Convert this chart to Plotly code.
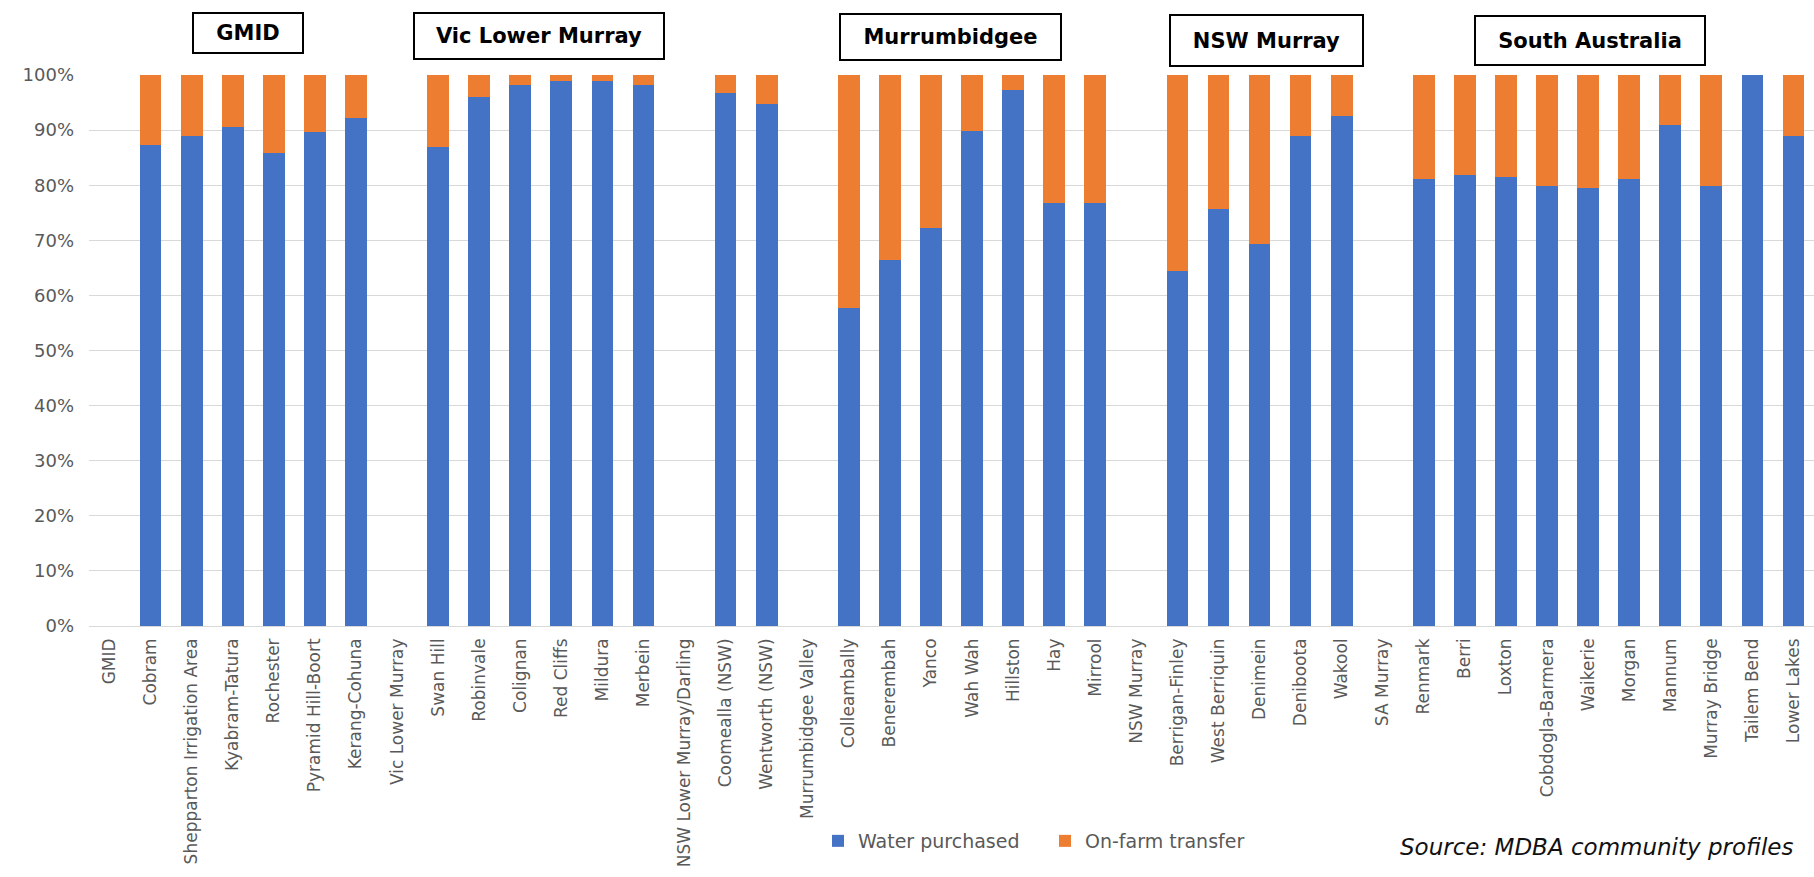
import plotly.graph_objects as go

categories = [
    "GMID", "Cobram", "Shepparton Irrigation Area", "Kyabram-Tatura", "Rochester",
    "Pyramid Hill-Boort", "Kerang-Cohuna", "Vic Lower Murray", "Swan Hill", "Robinvale",
    "Colignan", "Red Cliffs", "Mildura", "Merbein", "NSW Lower Murray/Darling",
    "Coomealla (NSW)", "Wentworth (NSW)", "Murrumbidgee Valley", "Colleambally", "Benerembah",
    "Yanco", "Wah Wah", "Hillston", "Hay", "Mirrool", "NSW Murray", "Berrigan-Finley",
    "West Berriquin", "Denimein", "Deniboota", "Wakool", "SA Murray", "Renmark", "Berri",
    "Loxton", "Cobdogla-Barmera", "Waikerie", "Morgan", "Mannum", "Murray Bridge",
    "Tailem Bend", "Lower Lakes",
]

water_purchased = [
    None, 87.3, 89.0, 90.6, 85.8, 89.7, 92.2, None, 86.9, 96.0,
    98.1, 98.9, 98.9, 98.1, None, 96.8, 94.7, None, 57.7, 66.4,
    72.2, 89.8, 97.2, 76.8, 76.8, None, 64.4, 75.6, 69.4, 88.9,
    92.6, None, 81.1, 81.9, 81.5, 79.8, 79.5, 81.1, 91.0, 79.8,
    100.0, 88.9,
]

on_farm_transfer = [
    None, 12.7, 11.0, 9.4, 14.2, 10.3, 7.8, None, 13.1, 4.0,
    1.9, 1.1, 1.1, 1.9, None, 3.2, 5.3, None, 42.3, 33.6,
    27.8, 10.2, 2.8, 23.2, 23.2, None, 35.6, 24.4, 30.6, 11.1,
    7.4, None, 18.9, 18.1, 18.5, 20.2, 20.5, 18.9, 9.0, 20.2,
    0.0, 11.1,
]

y_ticks = [0, 10, 20, 30, 40, 50, 60, 70, 80, 90, 100]
y_tick_labels = ["0%", "10%", "20%", "30%", "40%", "50%", "60%", "70%", "80%", "90%", "100%"]

group_titles = ["GMID", "Vic Lower Murray", "Murrumbidgee", "NSW Murray", "South Australia"]

# ---- layout geometry (pixels) ----
W, H = 1814, 877
L, R, T, B = 89, 0, 75, 251
PW, PH = W - L - R, H - T - B


def px_x(px):
    return (px - L) / PW


def px_y(py):
    return (H - B - py) / PH


BLUE = "#4472C4"
ORANGE = "#ED7D31"
GREY = "#595959"
FONT = "DejaVu Sans"

fig = go.Figure()
fig.add_trace(go.Bar(x=categories, y=water_purchased, name="Water purchased",
                     marker=dict(color=BLUE, line=dict(width=0))))
fig.add_trace(go.Bar(x=categories, y=on_farm_transfer, name="On-farm transfer",
                     marker=dict(color=ORANGE, line=dict(width=0))))

# header boxes: (center x, center y, width, height) in pixels
boxes = [(248, 33, 112, 42), (539, 36, 252, 48), (950, 37, 223, 48),
         (1266, 40, 195, 53), (1590, 40, 232, 51)]
for title, (cx, cy, bw, bh) in zip(group_titles, boxes):
    fig.add_annotation(
        text="<b>%s</b>" % title, xref="paper", yref="paper",
        x=px_x(cx), y=px_y(cy), xanchor="center", yanchor="middle",
        showarrow=False, width=bw - 4, height=bh - 4, borderpad=0,
        bordercolor="#000000", borderwidth=2, bgcolor="white",
        font=dict(family=FONT, size=21, color="#000000"), align="center", valign="middle",
    )

fig.add_annotation(
    text="<i>Source: MDBA community profiles</i>", xref="paper", yref="paper",
    x=px_x(1795), y=px_y(847), xanchor="right", yanchor="middle", showarrow=False,
    font=dict(family=FONT, size=23, color="#111111"),
)

fig.update_layout(
    width=W, height=H, autosize=False,
    margin=dict(l=L, r=R, t=T, b=B, pad=0),
    paper_bgcolor="white", plot_bgcolor="white",
    barmode="stack", bargap=0.47,
    font=dict(family=FONT, color=GREY),
    legend=dict(orientation="h", x=px_x(818), y=px_y(841), xanchor="left", yanchor="middle",
                font=dict(family=FONT, size=19, color=GREY), entrywidth=182,
                traceorder="normal", itemwidth=30, bgcolor="rgba(0,0,0,0)"),
    xaxis=dict(type="category", tickangle=-90, tickfont=dict(family=FONT, size=17, color=GREY),
               showgrid=False, showline=False, zeroline=False, ticks="",
               ticklabelstandoff=8, range=[-0.5, len(categories) - 0.5]),
    yaxis=dict(range=[0, 100], tickmode="array", tickvals=y_ticks, ticktext=y_tick_labels,
               tickfont=dict(family=FONT, size=18, color=GREY),
               showgrid=True, gridcolor="#D9D9D9", gridwidth=1, zeroline=True,
               zerolinecolor="#D9D9D9", zerolinewidth=1, showline=False, ticks="",
               ticklabelstandoff=14),
)

fig.write_html("out.html")
